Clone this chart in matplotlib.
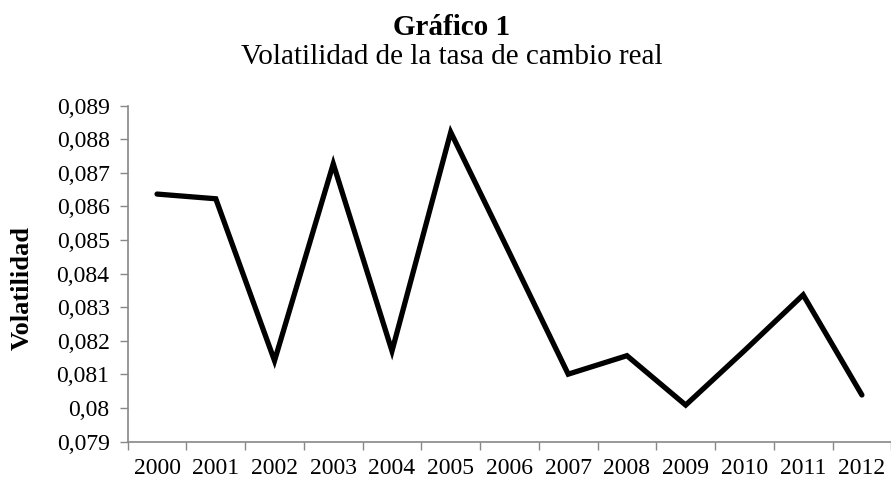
import numpy as np
import matplotlib.pyplot as plt
from matplotlib.ticker import FuncFormatter, FixedLocator

years = ['2000', '2001', '2002', '2003', '2004', '2005', '2006',
         '2007', '2008', '2009', '2010', '2011', '2012']
volatilidad = [0.08637, 0.08623, 0.08141, 0.08727, 0.08170, 0.08821, 0.08462,
               0.08101, 0.08156, 0.08009, 0.08171, 0.08337, 0.08039]

plt.rcParams['font.family'] = ['Liberation Serif', 'DejaVu Serif']

fig = plt.figure(figsize=(8.91, 4.8), dpi=100)
ax = fig.add_axes([0.1433, 0.0798, 0.857, 0.70])

x = np.arange(len(years))
ax.plot(x, volatilidad, color='black', lw=3.8, solid_joinstyle='miter',
        solid_capstyle='round', clip_on=False)

ax.set_xlim(-0.5, len(years) - 0.5)
ax.set_ylim(0.079, 0.089)
ax.set_yticks(np.arange(0.079, 0.0891, 0.001))
ax.yaxis.set_major_formatter(FuncFormatter(
    lambda v, p: f"{v:.3f}".rstrip('0').replace('.', ',')))

ax.set_xticks(x)
ax.set_xticklabels(years)
ax.xaxis.set_minor_locator(FixedLocator(np.arange(-0.5, len(years), 1.0)))
ax.tick_params(axis='x', which='major', length=0, pad=12, labelsize=17)
ax.tick_params(axis='x', which='minor', length=6, color='#888888', width=1)
ax.tick_params(axis='y', length=6, color='#888888', width=1, labelsize=17, pad=7)

for s in ['top', 'right']:
    ax.spines[s].set_visible(False)
for s in ['left', 'bottom']:
    ax.spines[s].set_color('#888888')
    ax.spines[s].set_linewidth(1.2)

fig.text(22 / 891, 1 - 288 / 480, 'Volatilidad', rotation=90, ha='center',
         va='center', fontsize=19, fontweight='bold')

cx = 452 / 891
fig.text(cx, 1 - 35 / 480, 'Gráfico 1', ha='center', va='baseline',
         fontsize=21, fontweight='bold')
fig.text(cx, 1 - 64 / 480, 'Volatilidad de la tasa de cambio real',
         ha='center', va='baseline', fontsize=21)

fig.savefig('out.png', dpi=100)
